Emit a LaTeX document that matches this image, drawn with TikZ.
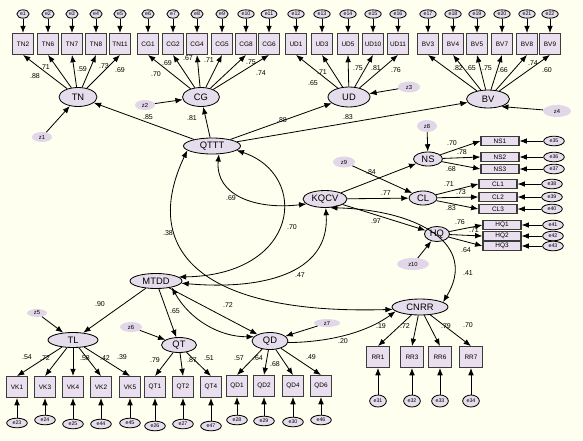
\documentclass[tikz,border=0pt]{standalone}
\usepackage{fontspec}
\setmainfont{Liberation Sans}
\usepackage{tikz}
\usetikzlibrary{shapes.geometric, arrows.meta, positioning, calc}
\definecolor{bgcream}{RGB}{255,255,240}
\definecolor{latfill}{RGB}{230,221,236}
\definecolor{obsfill}{RGB}{233,223,238}
\definecolor{zfill}{RGB}{226,214,233}
\definecolor{boxline}{RGB}{60,60,60}

\begin{document}
\begin{tikzpicture}[x=0.03cm, y=-0.03cm,
    lat/.style 2 args={ellipse, draw, fill=latfill, line width=0.7pt, minimum width=#1*0.03cm, minimum height=#2*0.03cm, inner sep=0pt, font=\fontsize{8}{9}\selectfont},
    dist/.style 2 args={ellipse, fill=zfill, minimum width=#1*0.03cm, minimum height=#2*0.03cm, inner sep=0pt, font=\fontsize{5}{6}\selectfont},
    obs/.style={rectangle, draw=boxline, fill=obsfill, line width=1pt, minimum width=0.63cm, minimum height=0.62cm, inner sep=0pt, font=\fontsize{5.5}{6}\selectfont},
    wideobs/.style={obs, minimum width=1.14cm, minimum height=0.27cm},
    err/.style={ellipse, draw, fill=latfill, line width=0.7pt, minimum height=0.25cm, inner xsep=1.2pt, inner ysep=0.3pt, font=\fontsize{4.5}{5}\selectfont},
    errwide/.style={err, minimum width=0.62cm, minimum height=0.29cm},
    erround/.style={err, minimum width=0.5cm, minimum height=0.36cm},
    coef/.style={inner sep=0pt, font=\fontsize{6}{7}\selectfont},
    arrow/.style={-{Latex[length=2.2mm,width=1.7mm]}, line width=0.7pt},
    covar/.style={{Latex[length=2.2mm,width=1.7mm]}-{Latex[length=2.2mm,width=1.7mm]}, line width=0.7pt}
]
    % Background
    \fill[bgcream] (0,0) rectangle (583,440);
    \useasboundingbox (0,0) rectangle (583,440);

    % Latent variables
    \node[lat={38}{19}] (TN) at (78,97) {TN};
    \node[lat={37}{19}] (CG) at (201,97) {CG};
    \node[lat={42}{20}] (UD) at (349,97) {UD};
    \node[lat={43}{18}] (BV) at (488,99) {BV};
    \node[lat={57}{16}] (QTTT) at (212,146) {QTTT};
    \node[lat={44}{17}] (KQCV) at (325,199) {KQCV};
    \node[lat={29}{14}] (NS) at (428,159) {NS};
    \node[lat={28}{14}] (CL) at (423,198) {CL};
    \node[lat={25}{15}] (HQ) at (437,234) {HQ};
    \node[lat={52}{15}] (MTDD) at (156,281) {MTDD};
    \node[lat={56}{16}] (CNRR) at (420,307) {CNRR};
    \node[lat={50}{15}] (TL) at (73,340) {TL};
    \node[lat={35}{15}] (QT) at (179,345) {QT};
    \node[lat={36}{17}] (QD) at (270,341) {QD};

    % Disturbances
    \node[dist={20}{10}] (z1) at (42,137) {z1};
    \node[dist={20}{10}] (z2) at (145,105) {z2};
    \node[dist={22}{11}] (z3) at (409,87) {z3};
    \node[dist={28}{12}] (z4) at (557,111) {z4};
    \node[dist={20}{12}] (z8) at (427,126) {z8};
    \node[dist={22}{11}] (z9) at (344,162) {z9};
    \node[dist={32}{12}] (z10) at (413,264) {z10};
    \node[dist={20}{8}] (z5) at (37,313) {z5};
    \node[dist={22}{10}] (z6) at (131,327) {z6};
    \node[dist={26}{8}] (z7) at (327,323) {z7};

    % Top indicators
    \foreach \nm/\x/\er in {TN2/23/e1, TN6/48/e2, TN7/72/e3, TN8/96/e4, TN11/120/e5} {
        \node[obs] (\nm) at (\x,44) {\nm};
        \node[err] (\er) at (\x,14) {\er};
        \draw[arrow] (\er) -- (\nm);
        \draw[arrow] (TN) -- (\nm.south);
    }
    \foreach \nm/\x/\er in {CG1/148/e6, CG2/173/e7, CG4/197/e8, CG5/222/e9, CG8/246/e10, CG6/269/e11} {
        \node[obs] (\nm) at (\x,44) {\nm};
        \node[err] (\er) at (\x,14) {\er};
        \draw[arrow] (\er) -- (\nm);
        \draw[arrow] (CG) -- (\nm.south);
    }
    \foreach \nm/\x/\er in {UD1/296/e12, UD3/322/e13, UD5/348/e14, UD10/373/e15, UD11/398/e16} {
        \node[obs] (\nm) at (\x,44) {\nm};
        \node[err] (\er) at (\x,14) {\er};
        \draw[arrow] (\er) -- (\nm);
        \draw[arrow] (UD) -- (\nm.south);
    }
    \foreach \nm/\x/\er in {BV3/428/e17, BV4/453/e18, BV5/477/e19, BV7/502/e20, BV8/527/e21, BV9/550/e22} {
        \node[obs] (\nm) at (\x,44) {\nm};
        \node[err] (\er) at (\x,14) {\er};
        \draw[arrow] (\er) -- (\nm);
        \draw[arrow] (BV) -- (\nm.south);
    }

    % Right indicators
    \foreach \nm/\y/\er in {NS1/141/e35, NS2/157/e36, NS3/169/e37} {
        \node[wideobs] (\nm) at (500,\y) {\nm};
        \node[errwide] (\er) at (554,\y) {\er};
        \draw[arrow] (\er) -- (\nm);
        \draw[arrow] (NS) -- (\nm.west);
    }
    \foreach \nm/\y/\er in {CL1/184/e38, CL2/197/e39, CL3/209/e40} {
        \node[wideobs] (\nm) at (498,\y) {\nm};
        \node[errwide] (\er) at (552,\y) {\er};
        \draw[arrow] (\er) -- (\nm);
        \draw[arrow] (CL) -- (\nm.west);
    }
    \foreach \nm/\y/\er in {HQ1/225/e41, HQ2/236/e42, HQ3/246/e43} {
        \node[wideobs] (\nm) at (502,\y) {\nm};
        \node[errwide] (\er) at (553,\y) {\er};
        \draw[arrow] (\er) -- (\nm);
        \draw[arrow] (HQ) -- (\nm.west);
    }

    % Bottom indicators
    \foreach \nm/\x/\er/\ey in {VK1/17/e23/423, VK3/45/e24/420, VK4/73/e25/424, VK2/101/e44/424, VK5/130/e45/423} {
        \node[obs] (\nm) at (\x,387) {\nm};
        \node[errwide] (\er) at (\x,\ey) {\er};
        \draw[arrow] (\er) -- (\nm);
        \draw[arrow] (TL) -- (\nm.north);
    }
    \foreach \nm/\x/\er/\ey in {QT1/155/e26/426, QT2/183/e27/424, QT4/211/e47/426} {
        \node[obs] (\nm) at (\x,387) {\nm};
        \node[errwide] (\er) at (\x,\ey) {\er};
        \draw[arrow] (\er) -- (\nm);
        \draw[arrow] (QT) -- (\nm.north);
    }
    \foreach \nm/\x/\er/\ey in {QD1/237/e28/420, QD2/264/e29/421, QD4/293/e30/422, QD6/321/e46/420} {
        \node[obs] (\nm) at (\x,386) {\nm};
        \node[errwide] (\er) at (\x,\ey) {\er};
        \draw[arrow] (\er) -- (\nm);
        \draw[arrow] (QD) -- (\nm.north);
    }
    \foreach \nm/\x/\er in {RR1/378/e31, RR3/412/e32, RR6/440/e33, RR7/471/e34} {
        \node[obs, minimum width=0.69cm] (\nm) at (\x,357) {\nm};
        \node[erround] (\er) at (\x,401) {\er};
        \draw[arrow] (\er) -- (\nm);
        \draw[arrow] (CNRR) -- (\nm.north);
    }

    % Structural paths
    \foreach \t in {TN, CG, UD, BV} {
        \draw[arrow] (QTTT) -- (\t);
    }
    \foreach \t in {NS, CL, HQ} {
        \draw[arrow] (KQCV) -- (\t);
    }
    \foreach \t in {TL, QT, QD} {
        \draw[arrow] (MTDD) -- (\t);
    }
    \draw[arrow] (QD.-5) .. controls (335,342) and (370,330) .. (CNRR.-170);

    % Disturbance arrows
    \draw[arrow] (z1) -- (TN);
    \draw[arrow] (z2) -- (CG);
    \draw[arrow] (z3) -- (UD);
    \draw[arrow] (z4) -- (BV.-30);
    \draw[arrow] (z8) -- (NS);
    \draw[arrow] (z9) -- (CL);
    \draw[arrow] (z10) -- (HQ);
    \draw[arrow] (z5) -- (TL);
    \draw[arrow] (z6) -- (QT);
    \draw[arrow] (z7) -- (QD);

    % Covariances
    \draw[covar] (QTTT.-50) .. controls (215,195) and (255,210) .. (KQCV.-165);
    \draw[covar] (QTTT.-10) .. controls (310,175) and (300,275) .. (MTDD.10);
    \draw[covar] (QTTT.-170) .. controls (140,250) and (200,315) .. (CNRR.185);
    \draw[covar] (KQCV.-85) .. controls (330,275) and (260,290) .. (MTDD.-5);
    \draw[covar] (KQCV.-60) .. controls (420,210) and (478,245) .. (CNRR.12);
    \draw[covar] (MTDD.-22) .. controls (190,320) and (220,337) .. (QD.165);

    % Coefficients
    \foreach \v/\x/\y [count=\i] in {
        .88/35/76, .71/45/67, .59/82/69, .73/104/66, .69/120/70,
        .70/156/74, .69/167/63, .67/188/58, .71/209/60, .75/251/62, .74/261/73,
        .65/313/83, .71/322/72, .75/358/68, .81/376/68, .76/396/70,
        .82/458/68, .65/471/68, .75/487/68, .66/503/70, .74/533/63, .60/547/70,
        .85/148/117, .81/192/118, .88/282/120, .83/348/117,
        .84/371/172, .77/386/193, .97/376/221,
        .70/452/143, .78/462/152, .68/451/169,
        .71/449/184, .73/461/192, .83/451/208,
        .76/460/222, .71/474/230, .64/466/250,
        .69/231/198, .70/292/227, .38/168/233, .47/300/275, .41/468/273,
        .90/100/304, .65/175/311, .72/228/305,
        .20/343/341, .19/381/326, .72/405/326, .79/446/326, .70/468/325,
        .54/27/357, .72/45/358, .58/85/358, .42/105/358, .39/122/357,
        .79/155/360, .87/192/360, .51/209/358,
        .57/239/358, .64/258/358, .68/275/364, .49/311/357} {
        \node[coef] (c\i) at (\x,\y) {\v};
    }
\end{tikzpicture}
\end{document}
